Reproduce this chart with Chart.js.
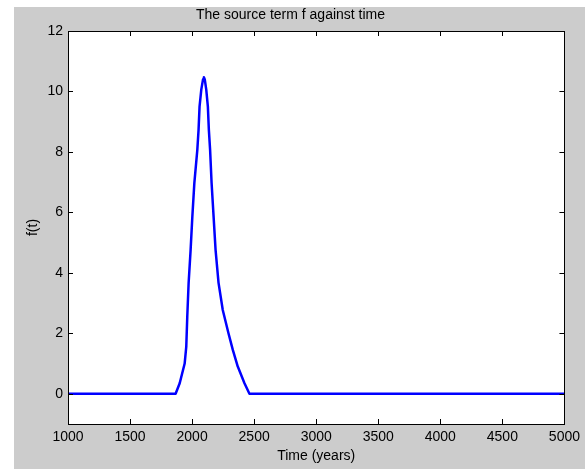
<!DOCTYPE html>
<html>
<head>
<meta charset="utf-8">
<script src="https://cdn.jsdelivr.net/npm/chart.js@4"></script>
<style>
  html, body { margin: 0; padding: 0; background: #ffffff; }
  #wrap { position: absolute; left: 14px; top: 7px; width: 571px; height: 462px; }
</style>
</head>
<body>
<div id="wrap"><canvas id="sourceChart" width="571" height="462"></canvas></div>
<script>
  // time in years and the source term f(t)
  const years = [1000, 1867, 1900, 1940, 1953, 1961, 1972, 1988, 2002, 2018, 2042, 2052, 2060, 2074, 2088, 2095, 2102, 2114, 2127, 2135, 2145, 2157, 2173, 2189, 2213, 2247, 2293, 2328, 2368, 2422, 2462, 5000];
  const fValues = [0, 0, 0.35, 1.0, 1.56, 2.55, 3.67, 4.76, 5.87, 6.97, 8.07, 8.73, 9.5, 10.06, 10.4, 10.47, 10.4, 10.06, 9.5, 8.73, 8.07, 6.97, 5.87, 4.76, 3.67, 2.77, 2.0, 1.45, 0.9, 0.35, 0, 0];

  const xTicks = [1000, 1500, 2000, 2500, 3000, 3500, 4000, 4500, 5000];
  const yTicks = [0, 2, 4, 6, 8, 10, 12];

  const points = years.map((t, i) => ({ x: t, y: fValues[i] }));

  const fontFamily = '"Liberation Sans", Arial, Helvetica, sans-serif';

  // gray figure, white axes, box with inward ticks like matlab
  const matlabFrame = {
    id: 'matlabFrame',
    beforeDraw(chart) {
      const { ctx, chartArea: a } = chart;
      ctx.save();
      ctx.fillStyle = '#cccccc';
      ctx.fillRect(0, 0, chart.width, chart.height);
      ctx.fillStyle = '#ffffff';
      ctx.fillRect(a.left, a.top, a.right - a.left, a.bottom - a.top);
      ctx.restore();
    },
    afterDraw(chart) {
      const { ctx, chartArea: a, scales } = chart;
      const len = 5;
      ctx.save();
      ctx.strokeStyle = '#000000';
      ctx.lineWidth = 1;
      ctx.beginPath();
      xTicks.forEach(v => {
        const px = Math.round(scales.x.getPixelForValue(v)) + 0.5;
        ctx.moveTo(px, a.bottom);
        ctx.lineTo(px, a.bottom - len);
        ctx.moveTo(px, a.top);
        ctx.lineTo(px, a.top + len);
      });
      yTicks.forEach(v => {
        const py = Math.round(scales.y.getPixelForValue(v)) + 0.5;
        ctx.moveTo(a.left, py);
        ctx.lineTo(a.left + len, py);
        ctx.moveTo(a.right, py);
        ctx.lineTo(a.right - len, py);
      });
      ctx.stroke();
      ctx.strokeRect(Math.round(a.left) + 0.5, Math.round(a.top) + 0.5,
        Math.round(a.right - a.left), Math.round(a.bottom - a.top));
      ctx.restore();
    }
  };

  window.onload = () => {
    const ctx = document.getElementById('sourceChart').getContext('2d');
    new Chart(ctx, {
      type: 'line',
      data: {
        datasets: [{
          data: points,
          borderColor: '#0000ff',
          borderWidth: 2.5,
          borderJoinStyle: 'round',
          borderCapStyle: 'round',
          pointRadius: 0,
          tension: 0,
          fill: false
        }]
      },
      options: {
        responsive: false,
        animation: false,
        events: [],
        layout: { padding: { left: 0, top: 0, right: 18, bottom: 0 } },
        plugins: {
          legend: { display: false },
          tooltip: { enabled: false },
          title: {
            display: true,
            text: 'The source term f against time',
            color: '#000000',
            font: { family: fontFamily, size: 14, weight: 'normal', lineHeight: 1.2 },
            padding: { top: 0, bottom: 7.2 }
          }
        },
        scales: {
          x: {
            type: 'linear',
            min: 1000,
            max: 5000,
            grid: { display: false, drawTicks: false },
            border: { display: false },
            afterBuildTicks: s => { s.ticks = xTicks.map(v => ({ value: v })); },
            afterFit: s => { s.height = 45; },
            ticks: {
              color: '#000000',
              padding: 5,
              maxRotation: 0,
              font: { family: fontFamily, size: 14 },
              callback: v => String(v)
            },
            title: {
              display: true,
              text: 'Time (years)',
              color: '#000000',
              font: { family: fontFamily, size: 14 },
              padding: { top: 0, bottom: 4 }
            }
          },
          y: {
            min: -1,
            max: 12,
            grid: { display: false, drawTicks: false },
            border: { display: false },
            afterBuildTicks: s => { s.ticks = yTicks.map(v => ({ value: v })); },
            afterFit: s => { s.width = 54; },
            ticks: {
              color: '#000000',
              padding: 5,
              font: { family: fontFamily, size: 14 },
              callback: v => String(v)
            },
            title: {
              display: true,
              text: 'f(t)',
              color: '#000000',
              font: { family: fontFamily, size: 14 },
              padding: { top: 10.6, bottom: 0 }
            }
          }
        }
      },
      plugins: [matlabFrame]
    });
  };
</script>
</body>
</html>
